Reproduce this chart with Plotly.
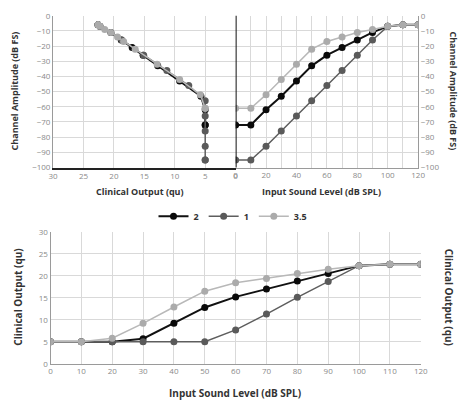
import plotly.graph_objects as go

# ---- data ----
input_level = [0, 10, 20, 30, 40, 50, 60, 70, 80, 90, 100, 110, 120]
series_names = ["2", "1", "3.5"]

# Channel amplitude (dB FS) vs input sound level
amp_2 = [-72, -72, -62, -53, -43, -33, -26, -21, -16, -11, -7, -6, -6]
amp_1 = [-95, -95, -86, -76, -66, -56, -46, -36, -26, -16, -7, -6, -6]
amp_35 = [-61, -61, -52, -42, -32, -22, -17, -14, -11, -9, -7, -6, -6]

# Clinical output (qu) vs input sound level
out_2 = [5, 5, 5, 5.7, 9.2, 12.8, 15.2, 17.0, 18.8, 20.5, 22.3, 22.6, 22.6]
out_1 = [5, 5, 5, 5, 5, 5, 7.7, 11.3, 15.1, 18.7, 22.3, 22.6, 22.6]
out_35 = [5, 5, 5.8, 9.2, 12.9, 16.5, 18.4, 19.4, 20.5, 21.5, 22.3, 22.6, 22.6]

amps = [amp_2, amp_1, amp_35]
outs = [out_2, out_1, out_35]
line_colors = ["#111111", "#5e5e5e", "#b8b8b8"]
marker_colors = ["#0a0a0a", "#5a5a5a", "#ababab"]
line_widths = [2, 1.5, 1.5]

W, H = 468, 409
def px(x):
    return x / W
def py(y):
    return 1 - y / H

TL = [px(49.3), px(236.7)]
TR = [px(236.7), px(424)]
TY = [py(166), py(10)]
BX = [px(46.7), px(426.7)]
BY = [py(367.7), py(232)]

fig = go.Figure()

for i, name in enumerate(series_names):
    common = dict(
        mode="lines+markers",
        line=dict(color=line_colors[i], width=line_widths[i]),
        marker=dict(color=marker_colors[i], size=7, symbol="circle"),
    )
    # top-left: clinical output vs channel amplitude
    fig.add_trace(go.Scatter(x=outs[i], y=amps[i], xaxis="x", yaxis="y",
                             showlegend=False, name=name, **common))
    # top-right: input level vs channel amplitude
    fig.add_trace(go.Scatter(x=input_level, y=amps[i], xaxis="x2", yaxis="y2",
                             showlegend=False, name=name, **common))
    # bottom: input level vs clinical output
    fig.add_trace(go.Scatter(x=input_level, y=outs[i], xaxis="x3", yaxis="y3",
                             showlegend=True, name=name, **common))

tickfont = dict(family="Open Sans", size=8, color="#8a8a8a")
grid = "#d9d9d9"
axis_common = dict(showgrid=True, gridcolor=grid, gridwidth=1, zeroline=False,
                   tickfont=tickfont, ticks="", fixedrange=True)

fig.update_layout(
    width=W, height=H,
    margin=dict(l=0, r=0, t=0, b=0),
    paper_bgcolor="white", plot_bgcolor="white",
    xaxis=dict(domain=TL, range=[30, 0], anchor="y", tickvals=[30, 25, 20, 15, 10, 5, 0],
               showline=True, linecolor="#222222", linewidth=2, **axis_common),
    yaxis=dict(domain=TY, range=[-100, 0], anchor="x", dtick=10,
               showline=True, linecolor="#9a9a9a", linewidth=1, **axis_common),
    xaxis2=dict(domain=TR, range=[0, 120], anchor="y2", dtick=20,
                minor=dict(dtick=10, showgrid=True, gridcolor=grid),
                showline=True, linecolor="#9a9a9a", linewidth=1, **axis_common),
    yaxis2=dict(domain=TY, range=[-100, 0], anchor="x2", side="right", dtick=10,
                showline=True, linecolor="#9a9a9a", linewidth=1, **axis_common),
    xaxis3=dict(domain=BX, range=[0, 120], anchor="y3", dtick=10,
                showline=True, linecolor="#9a9a9a", linewidth=1, **axis_common),
    yaxis3=dict(domain=BY, range=[0, 30], anchor="x3", dtick=5,
                showline=True, linecolor="#9a9a9a", linewidth=1, **axis_common),
    yaxis4=dict(range=[0, 30], anchor="x3", overlaying="y3", side="right", dtick=5,
                showgrid=False, zeroline=False, tickfont=tickfont, ticks="",
                showline=True, linecolor="#9a9a9a", linewidth=1, fixedrange=True),
    legend=dict(orientation="h", x=0.5, xanchor="center", y=py(216), yanchor="middle",
                font=dict(family="Open Sans", size=9, color="#333333", weight="bold"),
                itemwidth=30, bgcolor="rgba(0,0,0,0)", tracegroupgap=0),
    showlegend=True,
)

# vertical black divider at input level 0 in the top panel
fig.add_shape(type="line", xref="x2", yref="y2 domain", x0=0, x1=0, y0=0, y1=1,
              line=dict(color="#111111", width=2))

top_font = dict(family="Open Sans", size=9, color="#333333", weight="bold")
bot_font = dict(family="Open Sans", size=10, color="#333333", weight="bold")
anns = [
    ("Channel Amplitude (dB FS)", px(10), py(87), -90, top_font),
    ("Channel Amplitude (dB FS)", px(460), py(87), 90, top_font),
    ("Clinical Output (qu)", px(139), py(191), 0, top_font),
    ("Input Sound Level (dB SPL)", px(325), py(191), 0, top_font),
    ("Clinical Output (qu)", px(13), py(299), -90, bot_font),
    ("Clinical Output (qu)", px(456), py(299), 90, bot_font),
    ("Input Sound Level (dB SPL)", px(236), py(398), 0, bot_font),
]
for text, x, y, ang, f in anns:
    fig.add_annotation(text=text, x=x, y=y, xref="paper", yref="paper",
                       showarrow=False, textangle=ang, font=f,
                       xanchor="center", yanchor="middle")

fig.write_html("out.html",
               config={"displayModeBar": False, "staticPlot": True},
               post_script="document.body.style.margin='0';document.body.style.overflow='hidden';")
